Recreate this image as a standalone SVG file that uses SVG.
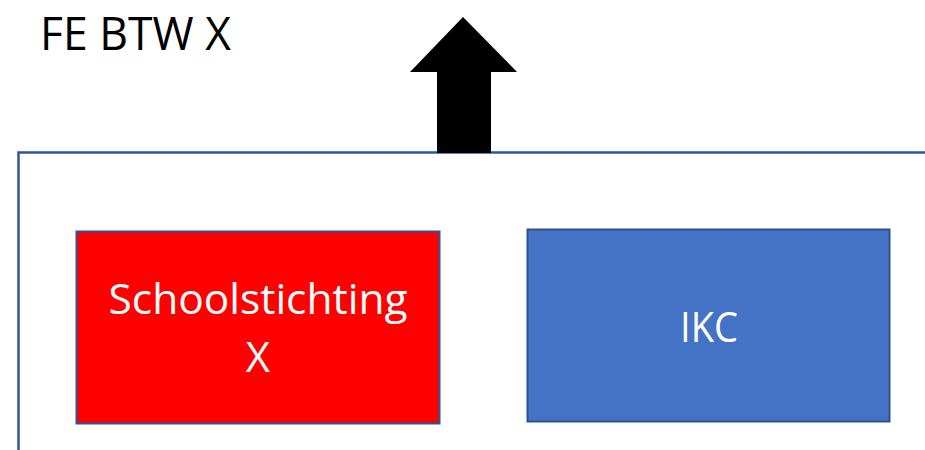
<svg xmlns="http://www.w3.org/2000/svg" width="925" height="450" viewBox="0 0 925 450">
  <style>
    .lbl { font-family: "Open Sans", "Noto Sans", "DejaVu Sans", sans-serif; }
    .box-text { fill: #ffffff; font-size: 42px; text-anchor: middle; }
    .frame { fill: none; stroke: #2F5597; stroke-width: 2.5; }
  </style>
  <rect width="925" height="450" fill="#ffffff"/>

  <!-- title -->
  <text id="title" class="lbl" x="40" y="49.5" font-size="46" fill="#000000" textLength="191" lengthAdjust="spacingAndGlyphs">FE BTW X</text>

  <!-- container frame (open to the right and bottom) -->
  <g id="frame">
    <path class="frame" d="M18.5,452 V152.5 H927"/>
  </g>

  <!-- upward block arrow -->
  <g id="connectors">
    <polygon points="463,17 517,72 491,72 491,153 437,153 437,72 410,72" fill="#000000"/>
  </g>

  <g id="node-schoolstichting">
    <rect x="76.5" y="231.5" width="363" height="192" fill="#FF0000" stroke="#2F5597" stroke-width="2"/>
    <text class="lbl box-text" x="258" y="314" textLength="299" lengthAdjust="spacingAndGlyphs">Schoolstichting</text>
    <text class="lbl box-text" x="258" y="372">X</text>
  </g>

  <g id="node-ikc">
    <rect x="527.5" y="229.5" width="362" height="192" fill="#4472C4" stroke="#2F528F" stroke-width="2"/>
    <text class="lbl box-text" x="709" y="342" textLength="58" lengthAdjust="spacingAndGlyphs">IKC</text>
  </g>
</svg>
